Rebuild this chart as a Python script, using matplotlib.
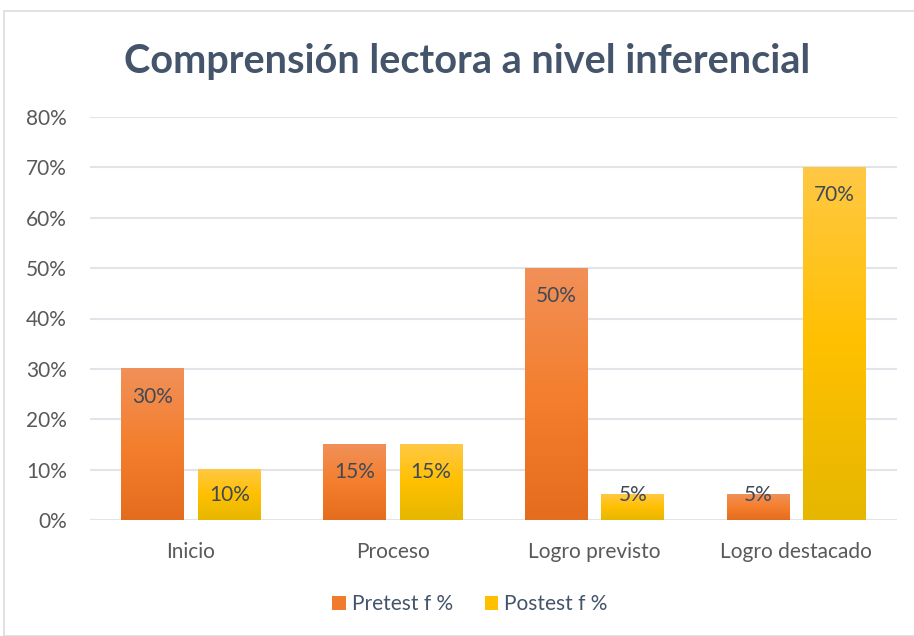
import numpy as np
import matplotlib
matplotlib.use("Agg")
import matplotlib.pyplot as plt
from matplotlib.patches import Rectangle
from matplotlib.colors import LinearSegmentedColormap

categories = ["Inicio", "Proceso", "Logro previsto", "Logro destacado"]
pretest = [30, 15, 50, 5]
postest = [10, 15, 5, 70]
series_names = ["Pretest f %", "Postest f %"]
yticks = [0, 10, 20, 30, 40, 50, 60, 70, 80]

FONT = ["Lato", "DejaVu Sans"]
plt.rcParams["font.family"] = FONT

fig = plt.figure(figsize=(9.14, 6.36), dpi=100)
fig.patch.set_facecolor("white")
# chart border
fig.add_artist(Rectangle((4/914, 0), 1.2, 1 - 11/636, transform=fig.transFigure,
                         fill=False, edgecolor="#D9DDE3", linewidth=1.2))

ax = fig.add_axes([90/914, 116/636, 807/914, 403/636])
ax.set_xlim(-0.5, 3.5)
ax.set_ylim(0, 80)

orange_cmap = LinearSegmentedColormap.from_list("o", ["#E46C1E", "#F47F2E", "#F19059"])
yellow_cmap = LinearSegmentedColormap.from_list("y", ["#E6B700", "#FFC000", "#FFC845"])

x = np.arange(len(categories))
width = 0.31
off = 0.19
grad = np.linspace(0, 1, 256).reshape(-1, 1)

for vals, dx, cmap, name, solid in [(pretest, -off, orange_cmap, series_names[0], "#F07B2C"),
                                     (postest, off, yellow_cmap, series_names[1], "#FFC000")]:
    bars = ax.bar(x + dx, vals, width, color=solid, label=name, zorder=2)
    for b, v in zip(bars, vals):
        x0, w, h = b.get_x(), b.get_width(), b.get_height()
        ax.imshow(grad, cmap=cmap, origin="lower", extent=[x0, x0 + w, 0, h],
                  aspect="auto", zorder=3, interpolation="bicubic")
        ycenter = h - min(5.5, h - 5)
        ax.text(x0 + w / 2, ycenter, f"{v}%", ha="center", va="center",
                fontsize=15, color="#404A57", zorder=4)

ax.set_xlim(-0.5, 3.5)
ax.set_ylim(0, 80)
ax.set_yticks(yticks)
ax.set_yticklabels([f"{t}%" for t in yticks])
ax.set_xticks(x)
ax.set_xticklabels(categories)
ax.tick_params(axis="both", length=0, labelsize=15, labelcolor="#595959")
ax.tick_params(axis="y", pad=16.5)
ax.tick_params(axis="x", pad=15.5)
ax.grid(axis="y", color="#E1E4E9", linewidth=1.5, zorder=0)
ax.set_axisbelow(True)
for s in ax.spines.values():
    s.set_visible(False)

fig.text(467/914, 1 - 61/636, "Comprensión lectora a nivel inferencial", ha="center", va="center",
         fontsize=28.5, fontweight="bold", color="#44546A")

leg = fig.legend(loc="center", bbox_to_anchor=(470/914, 1 - 604/636), ncol=2, frameon=False,
                 fontsize=15, handlelength=0.65, handleheight=0.65, handletextpad=0.3,
                 columnspacing=1.5)
for t in leg.get_texts():
    t.set_color("#44546A")

fig.savefig("out.png", dpi=100)
